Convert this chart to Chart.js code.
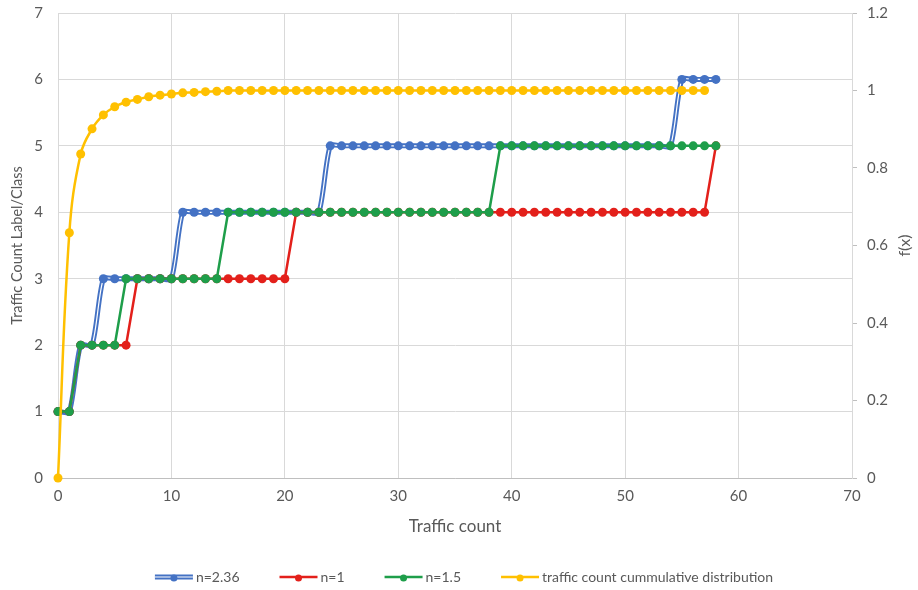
<!DOCTYPE html>
<html>
<head>
<meta charset="utf-8">
<script src="https://cdn.jsdelivr.net/npm/chart.js@4.4.1/dist/chart.umd.min.js"></script>
<style>
  html, body { margin: 0; padding: 0; background: #ffffff; }
  #wrap { width: 918px; height: 590px; position: relative; }
</style>
</head>
<body>
<div id="wrap"><canvas id="chart" width="918" height="590"></canvas></div>
<script>
// Traffic count (x) for every observation
const trafficCount = [0,1,2,3,4,5,6,7,8,9,10,11,12,13,14,15,16,17,18,19,20,
  21,22,23,24,25,26,27,28,29,30,31,32,33,34,35,36,37,38,39,40,
  41,42,43,44,45,46,47,48,49,50,51,52,53,54,55,56,57,58];

// Class label assigned for n = 2.36
const classN236 = [1,1,2,2,3,3,3,3,3,3,3,
  4,4,4,4,4,4,4,4,4,4,4,4,4,
  5,5,5,5,5,5,5,5,5,5,5,5,5,5,5,5,5,5,5,5,5,5,5,5,5,5,5,5,5,5,5,
  6,6,6,6];

// Class label assigned for n = 1
const classN1 = [1,1,2,2,2,2,2,
  3,3,3,3,3,3,3,3,3,3,3,3,3,3,
  4,4,4,4,4,4,4,4,4,4,4,4,4,4,4,4,4,4,4,4,4,4,4,4,4,4,4,4,4,4,4,4,4,4,4,4,4,
  5];

// Class label assigned for n = 1.5
const classN15 = [1,1,2,2,2,2,
  3,3,3,3,3,3,3,3,3,
  4,4,4,4,4,4,4,4,4,4,4,4,4,4,4,4,4,4,4,4,4,4,4,4,
  5,5,5,5,5,5,5,5,5,5,5,5,5,5,5,5,5,5,5,5];

// Cumulative distribution f(x) of the traffic count, x = 0..57
const cumulativeDist = [0,0.633,0.836,0.901,0.937,0.958,0.970,0.977,0.984,0.988,
  0.991,0.994,0.995,0.997,0.998,
  1,1,1,1,1,1,1,1,1,1,1,1,1,1,1,1,1,1,1,1,1,1,1,1,1,1,1,1,1,1,1,1,1,1,1,1,1,1,1,1,1,1,1];

// Axis tick values
const xTicks = [0,10,20,30,40,50,60,70];
const classTicks = [0,1,2,3,4,5,6,7];
const fxTicks = [0,0.2,0.4,0.6,0.8,1,1.2];

const seriesNames = ['n=2.36','n=1','n=1.5','traffic count cummulative distribution'];

const toPoints = (vals) => vals.map((v, i) => ({ x: trafficCount[i], y: v }));

const FONT = 'Lato';
const TEXT = '#595959';
const GRID = '#d9d9d9';
const BLUE = '#4472C4', RED = '#E3201B', GREEN = '#1E9E4A', GOLD = '#FFC000';

// Legend drawn below the axis title: a short line with a marker, then the name
const legendPlugin = {
  id: 'lineLegend',
  afterDraw(chart) {
    const ctx = chart.ctx;
    const items = [
      { text: seriesNames[0], color: BLUE, double: true },
      { text: seriesNames[1], color: RED },
      { text: seriesNames[2], color: GREEN },
      { text: seriesNames[3], color: GOLD }
    ];
    const iconW = 38, iconGap = 3, itemGap = 40, y = 577;
    ctx.save();
    ctx.font = '14px ' + FONT;
    const widths = items.map(it => iconW + iconGap + ctx.measureText(it.text).width);
    const total = widths.reduce((a, b) => a + b, 0) + itemGap * (items.length - 1);
    let x = 464 - total / 2;
    items.forEach((it, i) => {
      ctx.lineCap = 'butt';
      if (it.double) {
        ctx.strokeStyle = it.color; ctx.lineWidth = 5;
        ctx.beginPath(); ctx.moveTo(x, y); ctx.lineTo(x + iconW, y); ctx.stroke();
        ctx.strokeStyle = '#ffffff'; ctx.lineWidth = 1.2;
        ctx.beginPath(); ctx.moveTo(x, y); ctx.lineTo(x + iconW, y); ctx.stroke();
      } else {
        ctx.strokeStyle = it.color; ctx.lineWidth = 2.5;
        ctx.beginPath(); ctx.moveTo(x, y); ctx.lineTo(x + iconW, y); ctx.stroke();
      }
      ctx.fillStyle = it.color;
      ctx.beginPath(); ctx.arc(x + iconW / 2, y + 1, 3.5, 0, Math.PI * 2); ctx.fill();
      ctx.fillStyle = TEXT;
      ctx.textAlign = 'left'; ctx.textBaseline = 'middle';
      ctx.fillText(it.text, x + iconW + iconGap, y);
      x += widths[i] + itemGap;
    });
    ctx.restore();
  }
};

// Secondary axis title, reading bottom-to-top like the primary one
const rightTitlePlugin = {
  id: 'rightTitle',
  afterDraw(chart) {
    const ctx = chart.ctx;
    const a = chart.chartArea;
    ctx.save();
    ctx.translate(905, (a.top + a.bottom) / 2);
    ctx.rotate(-Math.PI / 2);
    ctx.font = '16px ' + FONT;
    ctx.fillStyle = TEXT;
    ctx.textAlign = 'center'; ctx.textBaseline = 'middle';
    ctx.fillText('f(x)', 0, 0);
    ctx.restore();
  }
};

const setTicks = (values) => (scale) => { scale.ticks = values.map(v => ({ value: v })); };
// Fixed side width; tick labels are allowed to overhang the plot edges
const fixWidth = (w) => (scale) => {
  scale.width = w;
  scale.paddingTop = 0;
  scale.paddingBottom = 0;
};

new Chart(document.getElementById('chart'), {
  type: 'line',
  data: {
    datasets: [
      { label: seriesNames[0], data: toPoints(classN236), yAxisID: 'y',
        borderColor: BLUE, borderWidth: 5, pointRadius: 0, tension: 0.25, order: 6, clip: false },
      { label: seriesNames[0] + ' inner', data: toPoints(classN236), yAxisID: 'y',
        borderColor: '#ffffff', borderWidth: 1.2, pointRadius: 0, tension: 0.25, order: 5, clip: false },
      { label: seriesNames[0] + ' markers', data: toPoints(classN236), yAxisID: 'y', showLine: false,
        pointRadius: 4.5, pointBackgroundColor: BLUE, pointBorderColor: BLUE, pointBorderWidth: 0, order: 4, clip: false },
      { label: seriesNames[1], data: toPoints(classN1), yAxisID: 'y',
        borderColor: RED, borderWidth: 2.5, pointRadius: 4.5, pointBackgroundColor: RED,
        pointBorderColor: RED, pointBorderWidth: 0, tension: 0, order: 3, clip: false },
      { label: seriesNames[2], data: toPoints(classN15), yAxisID: 'y',
        borderColor: GREEN, borderWidth: 2.5, pointRadius: 4.5, pointBackgroundColor: GREEN,
        pointBorderColor: GREEN, pointBorderWidth: 0, tension: 0, order: 2, clip: false },
      { label: seriesNames[3], data: toPoints(cumulativeDist), yAxisID: 'y1',
        borderColor: GOLD, borderWidth: 2.5, pointRadius: 4.5, pointBackgroundColor: GOLD,
        pointBorderColor: GOLD, pointBorderWidth: 0, tension: 0.4, order: 1, clip: false }
    ]
  },
  options: {
    responsive: false,
    animation: false,
    devicePixelRatio: 1,
    events: [],
    layout: { padding: { top: 13, left: 0, right: 0, bottom: 28 } },
    plugins: { legend: { display: false }, tooltip: { enabled: false } },
    scales: {
      x: {
        type: 'linear', min: 0, max: 70,
        afterBuildTicks: setTicks(xTicks),
        afterFit: (s) => { s.height = 84; },
        grid: { color: GRID, drawTicks: false },
        border: { color: '#bfbfbf' },
        ticks: { color: TEXT, font: { family: FONT, size: 15 }, padding: 9 },
        title: { display: true, text: 'Traffic count', color: TEXT,
                 font: { family: FONT, size: 17 }, padding: { top: 0, bottom: 25 } }
      },
      y: {
        position: 'left', min: 0, max: 7,
        afterBuildTicks: setTicks(classTicks),
        afterFit: fixWidth(58),
        grid: { color: GRID, drawTicks: false },
        border: { color: GRID },
        ticks: { color: TEXT, font: { family: FONT, size: 15 }, padding: 15 },
        title: { display: true, text: 'Traffic Count Label/Class', color: TEXT,
                 font: { family: FONT, size: 14.5 }, padding: { top: 9, bottom: 0 } }
      },
      y1: {
        position: 'right', min: 0, max: 1.2,
        afterBuildTicks: setTicks(fxTicks),
        afterFit: fixWidth(66),
        grid: { drawOnChartArea: false, drawTicks: true, tickLength: 5, color: '#bfbfbf' },
        border: { color: GRID },
        ticks: { color: TEXT, font: { family: FONT, size: 15 }, padding: 10,
                 callback: (v) => String(v) }
      }
    }
  },
  plugins: [legendPlugin, rightTitlePlugin]
});
</script>
</body>
</html>
